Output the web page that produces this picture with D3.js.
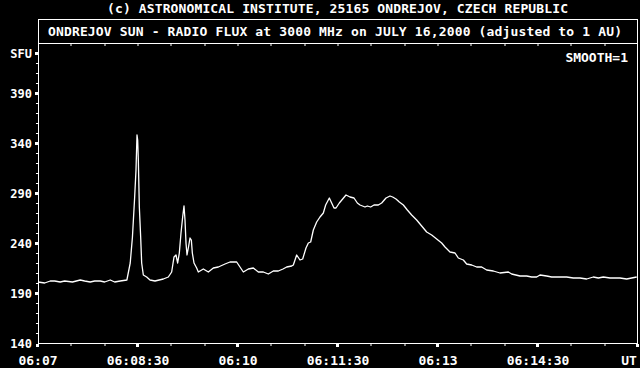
<!DOCTYPE html>
<html>
<head>
<meta charset="utf-8">
<script src="https://cdn.jsdelivr.net/npm/d3@7"></script>
<style>
  html, body { margin: 0; padding: 0; background: #000; }
  svg { display: block; }
  text { fill: #fff; font-family: "DejaVu Sans Mono", "Liberation Mono", monospace; font-weight: bold; }
</style>
</head>
<body>
<script>
// flux record, seconds after 06:07:00 UT and SFU
const timeSec = [
    0, 6, 11, 15, 20, 24, 31, 38, 42, 47, 51, 56, 60, 65, 69, 74, 80,
    83, 85, 87, 88.2, 89.1, 89.7, 90.3, 91.2, 92.4, 93.3, 94.8, 97.8, 100.8, 105.3,
    112.8, 117.3, 120.3, 122.4, 124.2, 125.7, 127.2, 128.7, 130.2, 131.4, 132.3, 133.2,
    134.1, 135.3, 136.8, 138, 138.9, 140.4, 142.8, 144.3, 148.8, 153.3, 157.8, 162.3,
    168.3, 172.8, 178.8, 181.8, 184.8, 189.3, 193.8, 198.3, 202.8, 207.3, 211.8, 216.3,
    220.5, 223.8, 228.3, 229.8, 232.8, 235.8, 238.2, 241.2, 243.3, 245.4, 247.8, 250.8,
    253.8, 256.8, 258.9, 262.2, 264.3, 266.4, 268.2, 271.2, 274.2, 277.2, 280.8, 284.4,
    287.4, 289.8, 294.3, 296.4, 299.4, 302.4, 306.3, 309.3, 313.2, 316.8, 319.2, 322.2,
    325.2, 328.8, 332.4, 336.3, 340.8, 345.3, 349.8, 354.3, 358.8, 363.3, 366.3, 370.8,
    375.3, 378.3, 382.8, 385.8, 390.3, 394.8, 399.3, 403.8, 409.8, 415.8, 423.3, 426.3,
    433.8, 439.8, 444.3, 448.8, 451.8, 457.8, 462.3, 471.3, 475.8, 481.8, 487.8, 493.8,
    499.8, 504.3, 508.8, 514.8, 523.8, 529.8, 534.3, 538.8
];
const fluxSfu = [
    201, 200, 202, 202, 201, 202, 201, 203, 202, 201, 202, 202, 201, 203, 201, 202, 203,
    220, 246, 286, 313, 348, 343, 323, 276, 246, 220, 208, 206, 203, 202,
    204, 206, 211, 226, 228, 220, 230, 250, 266, 277, 263, 240,
    228, 235, 245, 243, 230, 220, 215, 211, 214, 211, 215, 216,
    219, 221, 221, 216, 211, 214, 215, 211, 211, 209, 212, 212,
    214, 216, 217, 218, 228, 223, 224, 235, 240, 241, 253, 261,
    266, 270, 278, 285, 280, 275, 275, 280, 284, 288, 286, 285,
    280, 278, 276, 277, 276, 278, 278, 280, 285, 287, 286, 284,
    281, 278, 273, 268, 263, 257, 251, 248, 244, 240, 236, 231,
    230, 225, 223, 219, 218, 216, 216, 213, 212, 210, 211, 209,
    207, 207, 206, 206, 208, 207, 206, 206, 206, 205, 205, 204,
    206, 205, 206, 205, 205, 204, 205, 206
];

const xTickSec = [0, 90, 180, 270, 360, 450];
const xTickLabels = ["06:07", "06:08:30", "06:10", "06:11:30", "06:13", "06:14:30"];
const yTickValues = [140, 190, 240, 290, 340, 390];
const yUnitValue = 430;

const headerText = "(c) ASTRONOMICAL INSTITUTE, 25165 ONDREJOV, CZECH REPUBLIC";
const titleText = "ONDREJOV SUN - RADIO FLUX at 3000 MHz on JULY 16,2000 (adjusted to 1 AU)";

function initSVG() {
    var svg = d3.select("body")
        .append("svg")
        .attr("width", 640)
        .attr("height", 368)
        .style("background-color", "#000");
    return svg;
}

function drawChart() {
    const svg = initSVG();

    // plot box: 38..638 horizontally, title strip 19..43, data 43..343
    const x = d3.scaleLinear().domain([0, 540]).range([38, 638]);
    const y = d3.scaleLinear().domain([140, 439]).range([343, 44]);

    // header above the box
    svg.append("text")
        .attr("x", 107)
        .attr("y", 13)
        .attr("font-size", 13)
        .attr("textLength", 461)
        .attr("lengthAdjust", "spacing")
        .text(headerText);

    // frame
    svg.append("rect")
        .attr("x", 38.5)
        .attr("y", 19.5)
        .attr("width", 599)
        .attr("height", 324)
        .style("fill", "none")
        .style("stroke", "#fff")
        .style("stroke-width", 1)
        .attr("shape-rendering", "crispEdges");

    svg.append("line")
        .attr("x1", 38).attr("x2", 638)
        .attr("y1", 43.5).attr("y2", 43.5)
        .style("stroke", "#fff")
        .attr("shape-rendering", "crispEdges");

    svg.append("text")
        .attr("x", 48)
        .attr("y", 36)
        .attr("font-size", 13)
        .attr("textLength", 574)
        .attr("lengthAdjust", "spacing")
        .text(titleText);

    svg.append("text")
        .attr("x", 628)
        .attr("y", 62)
        .attr("font-size", 13)
        .attr("text-anchor", "end")
        .text("SMOOTH=1");

    // minor ticks every 30 s, on the bottom axis and under the title strip
    const minorSec = d3.range(30, 540, 30).filter(s => s % 90 !== 0);
    svg.selectAll(".xminor")
        .data(minorSec)
        .enter().append("rect")
        .attr("x", d => Math.round(x(d)) - 0.5)
        .attr("y", 344)
        .attr("width", 1)
        .attr("height", 2)
        .style("fill", "#fff");

    svg.selectAll(".xtop")
        .data(d3.range(30, 540, 30))
        .enter().append("rect")
        .attr("x", d => Math.round(x(d)) - 0.5)
        .attr("y", 44)
        .attr("width", 1)
        .attr("height", 2)
        .style("fill", "#fff");

    // major ticks: small squares
    svg.selectAll(".xmajor")
        .data(xTickSec.concat([540]))
        .enter().append("rect")
        .attr("x", d => Math.round(x(d)) - 2)
        .attr("y", 344)
        .attr("width", 3)
        .attr("height", 3)
        .style("fill", "#fff");

    svg.selectAll(".xlabel")
        .data(xTickSec)
        .enter().append("text")
        .attr("x", d => x(d))
        .attr("y", 365)
        .attr("font-size", 13)
        .attr("text-anchor", "middle")
        .text((d, i) => xTickLabels[i]);

    svg.append("text")
        .attr("x", 629)
        .attr("y", 365)
        .attr("font-size", 13)
        .attr("text-anchor", "middle")
        .text("UT");

    // y axis
    svg.selectAll(".yminor")
        .data(d3.range(150, 440, 10).filter(v => (v - 140) % 50 !== 0 && v !== yUnitValue))
        .enter().append("rect")
        .attr("x", 36)
        .attr("y", d => Math.round(y(d)))
        .attr("width", 2)
        .attr("height", 1)
        .style("fill", "#fff");

    svg.selectAll(".ymajor")
        .data(yTickValues.slice(1).concat([yUnitValue]))
        .enter().append("rect")
        .attr("x", 35)
        .attr("y", d => Math.round(y(d)) - 1)
        .attr("width", 3)
        .attr("height", 3)
        .style("fill", "#fff");

    svg.selectAll(".ylabel")
        .data(yTickValues)
        .enter().append("text")
        .attr("x", 32)
        .attr("y", d => y(d) + 4.5)
        .attr("font-size", 12)
        .attr("text-anchor", "end")
        .text(d => d);

    svg.append("text")
        .attr("x", 32)
        .attr("y", y(yUnitValue) + 4.5)
        .attr("font-size", 12)
        .attr("text-anchor", "end")
        .text("SFU");

    // flux curve
    const points = timeSec.map((t, i) => [t, fluxSfu[i]]);
    const line = d3.line()
        .x(d => x(d[0]))
        .y(d => y(d[1]));

    svg.append("path")
        .datum(points)
        .attr("d", line)
        .style("fill", "none")
        .style("stroke", "#fff")
        .style("stroke-width", 1.3)
        .style("stroke-linejoin", "round");
}

document.onreadystatechange = () => {
    if (document.readyState === "complete") {
        drawChart();
    }
};
</script>
</body>
</html>
